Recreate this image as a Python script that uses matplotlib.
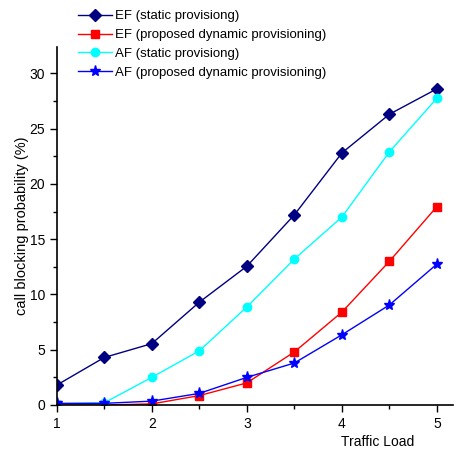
import matplotlib
matplotlib.use("Agg")
import matplotlib.pyplot as plt
from matplotlib.ticker import MultipleLocator

plt.rcParams['font.family'] = ['Liberation Sans', 'DejaVu Sans']

# Traffic load values
load = [1, 1.5, 2, 2.5, 3, 3.5, 4, 4.5, 5]

# Call blocking probability (%)
ef_static = [1.8, 4.3, 5.55, 9.3, 12.55, 17.2, 22.8, 26.3, 28.6]
ef_dynamic = [0.0, 0.0, 0.1, 0.85, 2.0, 4.8, 8.4, 13.0, 17.95]
af_static = [0.1, 0.2, 2.5, 4.9, 8.87, 13.2, 17.0, 22.9, 27.75]
af_dynamic = [0.15, 0.15, 0.35, 1.05, 2.5, 3.8, 6.35, 9.05, 12.75]

fig = plt.figure(figsize=(4.54, 4.5), dpi=100)
ax = fig.add_axes([0.125, 0.1, 0.873, 0.796])

ax.plot(load, ef_static, color="#000080", marker="D", markersize=6, lw=1,
        label="EF (static provisiong)")
ax.plot(load, ef_dynamic, color="#FF0000", marker="s", markersize=6, lw=1,
        label="EF (proposed dynamic provisioning)")
ax.plot(load, af_static, color="#00FFFF", marker="o", markersize=6, lw=1,
        label="AF (static provisiong)")
ax.plot(load, af_dynamic, color="#0000FF", marker="*", markersize=8, lw=1,
        label="AF (proposed dynamic provisioning)")

ax.set_xlim(1, 5.17)
ax.set_ylim(0, 32.4)
ax.xaxis.set_major_locator(MultipleLocator(1))
ax.xaxis.set_minor_locator(MultipleLocator(0.5))
ax.yaxis.set_major_locator(MultipleLocator(5))
ax.yaxis.set_minor_locator(MultipleLocator(2.5))
ax.tick_params(which="major", direction="out", length=5, width=1, labelsize=10)
ax.tick_params(which="minor", direction="out", length=3, width=1)

for side in ("top", "right"):
    ax.spines[side].set_visible(False)
for side in ("left", "bottom"):
    ax.spines[side].set_linewidth(1.2)

ax.set_ylabel("call blocking probability (%)", fontsize=10.5)
ax.yaxis.set_label_coords(-0.07, 0.5)
ax.set_xlabel("Traffic Load", fontsize=10)
ax.xaxis.set_label_coords(0.81, -0.085)

ax.legend(loc="upper left", bbox_to_anchor=(0.04, 1.117), frameon=False,
          fontsize=9.5, handlelength=2.6, handletextpad=0.2, labelspacing=0.5,
          borderaxespad=0)

fig.savefig("out.png", dpi=100)
